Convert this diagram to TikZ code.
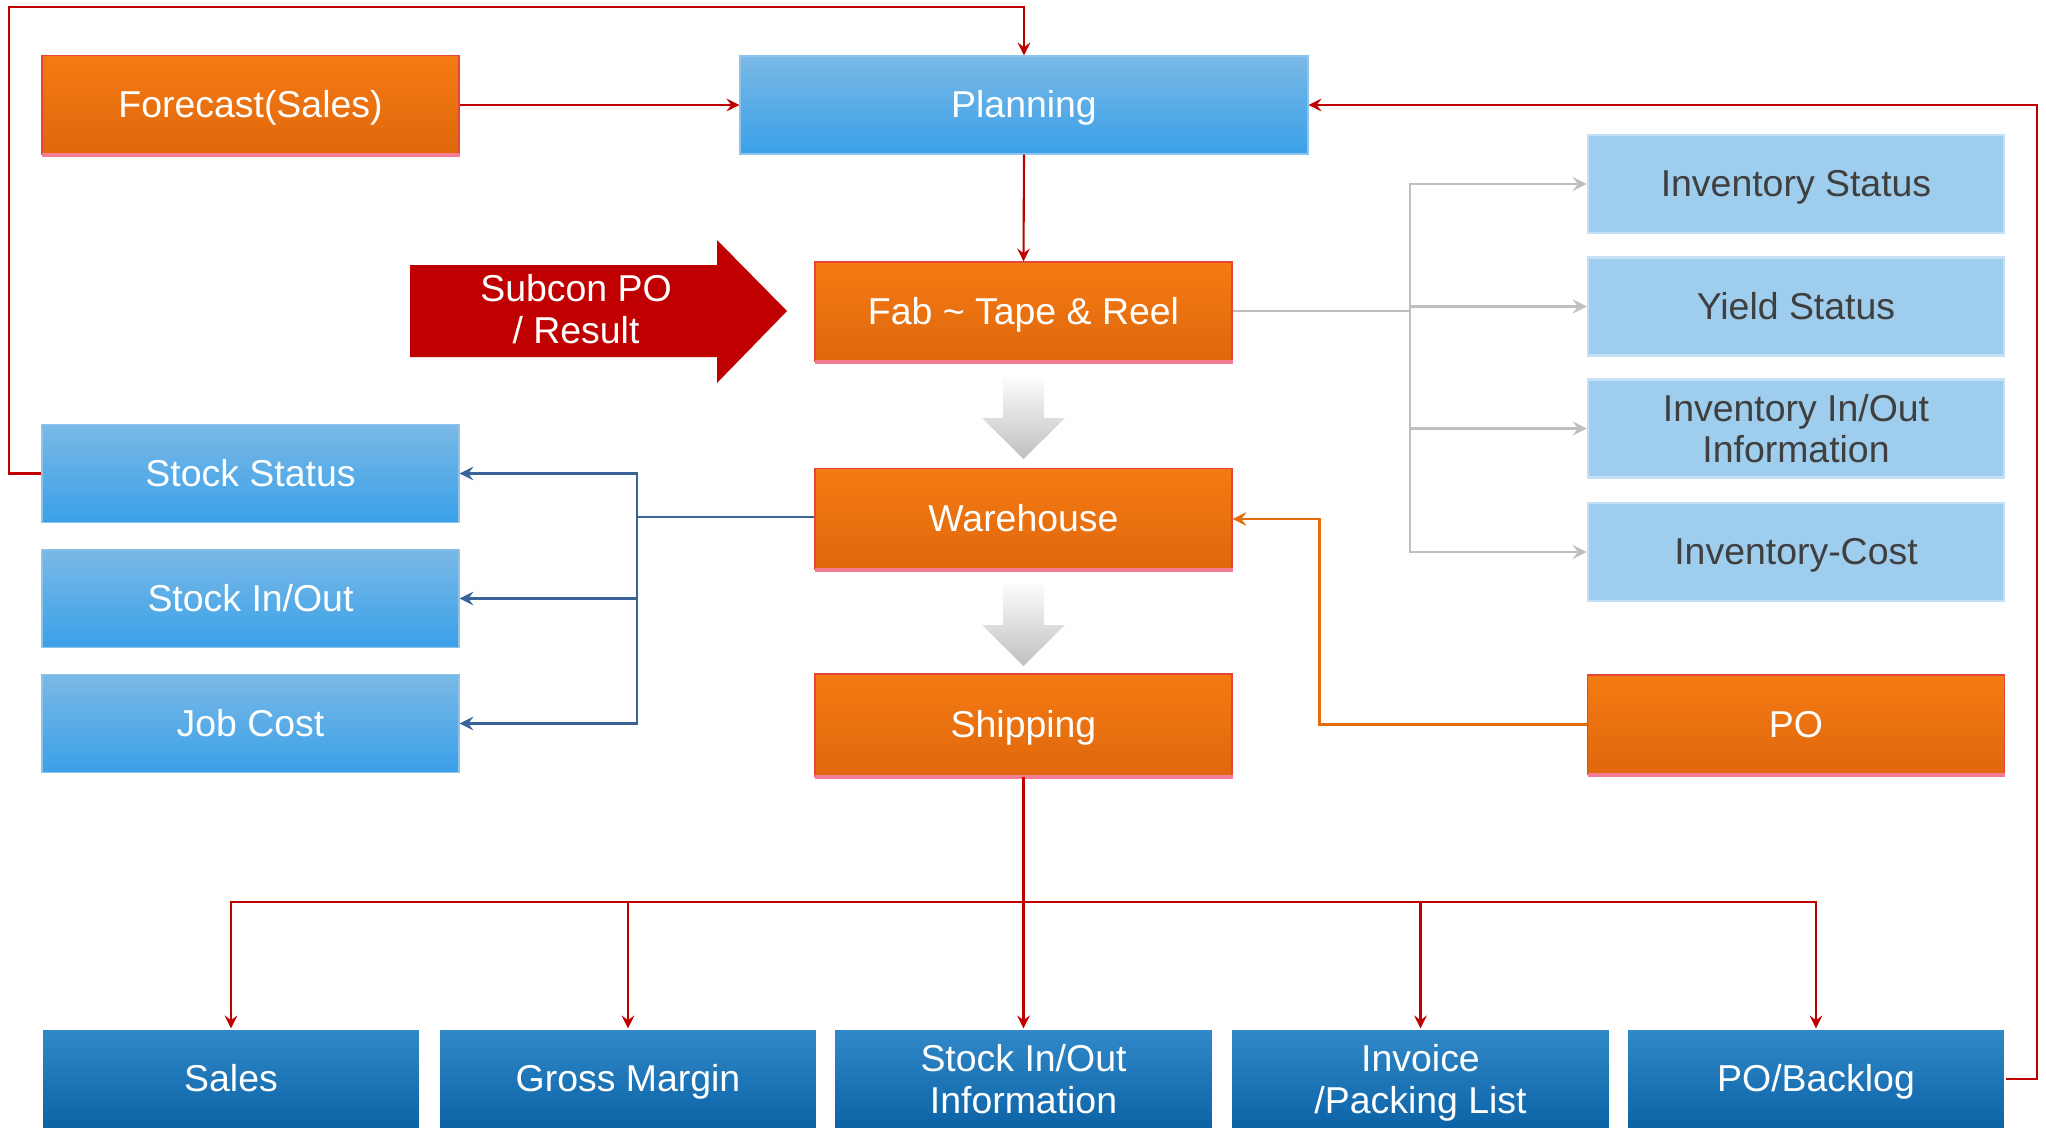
\documentclass[tikz,border=0pt]{standalone}
\usepackage{fontspec}
\setmainfont{Liberation Sans}
\usetikzlibrary{calc}

\definecolor{orangetop}{HTML}{F47A13}
\definecolor{orangebot}{HTML}{E0680C}
\definecolor{orangeedge}{HTML}{E8453A}
\definecolor{pinkedge}{HTML}{F47C95}
\definecolor{skytop}{HTML}{7AB9E6}
\definecolor{skybot}{HTML}{3AA0E8}
\definecolor{skyedge}{HTML}{8EC4EC}
\definecolor{palefill}{HTML}{9ECDED}
\definecolor{paleedge}{HTML}{C4E0F4}
\definecolor{deeptop}{HTML}{3189C9}
\definecolor{deepbot}{HTML}{0B63A6}
\definecolor{subconred}{HTML}{C00000}
\definecolor{linkred}{HTML}{C00000}
\definecolor{linkblue}{HTML}{3A6499}
\definecolor{linkgray}{HTML}{BFBFBF}
\definecolor{linkorange}{HTML}{E46C0A}
\definecolor{darktext}{HTML}{3F3F3F}

\begin{document}
\begin{tikzpicture}[y=-1cm]
		\tikzstyle{box} = [rectangle, minimum height=0.99cm, inner sep=0pt, align=center, text height=0.72em, text depth=0pt, font=\fontsize{10.65}{11.8}\selectfont]
		\tikzstyle{twolines} = [text height={}]
		\tikzstyle{obox} = [box, minimum width=4.17cm, top color=orangetop, bottom color=orangebot, draw=orangeedge, line width=0.4pt, text=white, append after command={(\tikzlastnode.south west) edge [draw=pinkedge, line width=1.2pt, shorten <=0.2pt] (\tikzlastnode.south east)}]
		\tikzstyle{sbox} = [box, minimum width=4.17cm, top color=skytop, bottom color=skybot, draw=skyedge, line width=0.4pt, text=white]
		\tikzstyle{pbox} = [box, minimum width=4.16cm, fill=palefill, draw=paleedge, line width=0.6pt, text=darktext]
		\tikzstyle{dbox} = [box, minimum width=3.78cm, minimum height=1.0cm, top color=deeptop, bottom color=deepbot, draw=white, line width=0.4pt, text=white]
		\tikzstyle{redline} = [draw=linkred, line width=0.6pt]
		\tikzstyle{blueline} = [draw=linkblue, line width=0.7pt]
		\tikzstyle{grayline} = [draw=linkgray, line width=0.8pt]
		\tikzstyle{orangeline} = [draw=linkorange, line width=0.7pt]
		
		\useasboundingbox (0,0) rectangle (20.46,11.28);
		
		\node [obox] (F) at (2.505,1.05) {Forecast(Sales)};
		\node [sbox, minimum width=5.68cm, minimum height=0.98cm] (P) at (10.24,1.05) {Planning};
		\node [obox] (Fab) at (10.235,3.115) {Fab \textasciitilde{} Tape \& Reel};
		\node [obox, minimum height=1.01cm] (WH) at (10.235,5.19) {Warehouse};
		\node [obox, minimum height=1.02cm] (S) at (10.235,7.25) {Shipping};
		
		\node [sbox, minimum height=0.98cm] (SS) at (2.505,4.735) {Stock Status};
		\node [sbox, minimum height=0.98cm] (SIO) at (2.505,5.985) {Stock In/Out};
		\node [sbox, minimum height=0.98cm] (JC) at (2.505,7.235) {Job Cost};
		
		\node [pbox, minimum height=0.98cm] (IS) at (17.96,1.84) {Inventory Status};
		\node [pbox, minimum height=0.98cm] (YS) at (17.96,3.065) {Yield Status};
		\node [pbox, twolines, minimum height=0.98cm] (IIO) at (17.96,4.285) {Inventory In/Out \\ Information};
		\node [pbox, minimum height=0.98cm] (IC) at (17.96,5.52) {Inventory-Cost};
		\node [obox] (PO) at (17.96,7.245) {PO};
		
		\node [dbox] (B1) at (2.31,10.79) {Sales};
		\node [dbox] (B2) at (6.28,10.79) {Gross Margin};
		\node [dbox, twolines] (B3) at (10.235,10.79) {Stock In/Out \\ Information};
		\node [dbox, twolines] (B4) at (14.205,10.79) {Invoice \\ /Packing List};
		\node [dbox] (B5) at (18.16,10.79) {PO/Backlog};
		
		\fill [subconred] (4.10,2.65) -- (7.17,2.65) -- (7.17,2.40) -- (7.87,3.11) -- (7.17,3.83) -- (7.17,3.57) -- (4.10,3.57) -- cycle;
		\node [box, twolines, text=white] (SC) at (5.76,3.09) {Subcon PO \\ / Result};
		
		\shade [top color=white, bottom color=black!25] (10.03,3.73) -- (10.44,3.73) -- (10.44,4.18) -- (10.65,4.18) -- (10.235,4.59) -- (9.82,4.18) -- (10.03,4.18) -- cycle;
		\shade [top color=white, bottom color=black!25] (10.03,5.80) -- (10.44,5.80) -- (10.44,6.25) -- (10.65,6.25) -- (10.235,6.66) -- (9.82,6.25) -- (10.03,6.25) -- cycle;
		
		\draw [redline, -stealth] (F.east) -- (P.west);
		\draw [redline, -stealth] (P.south) -- (Fab.north);
		\draw [redline, -stealth] (SS.west) -- ++(-0.32,0) |- ($(P.north)+(0,-0.48)$) -- (P.north);
		\draw [redline, -stealth] (B5.east) -- ++(0.31,0) |- (P.east);
		
		\coordinate (gb) at (14.10,3.11);
		\draw [grayline] (Fab.east |- gb) -- (gb);
		\foreach \n in {IS,YS,IIO,IC}
			\draw [grayline, -stealth] (gb) |- (\n.west);
		
		\coordinate (bb) at (6.37,5.17);
		\draw [blueline] (WH.west |- bb) -- (bb);
		\foreach \n in {SS,SIO,JC}
			\draw [blueline, -stealth] (bb) |- (\n.east);
		
		\draw [orangeline, -stealth] (PO.west) -| ($(WH.east)+(0.87,0)$) -- (WH.east);
		
		\coordinate (rb) at (10.235,9.02);
		\draw [redline] (S.south) -- (rb);
		\foreach \n in {B1,B2,B3,B4,B5}
			\draw [redline, -stealth] (rb) -| (\n.north);
	\end{tikzpicture}
\end{document}
